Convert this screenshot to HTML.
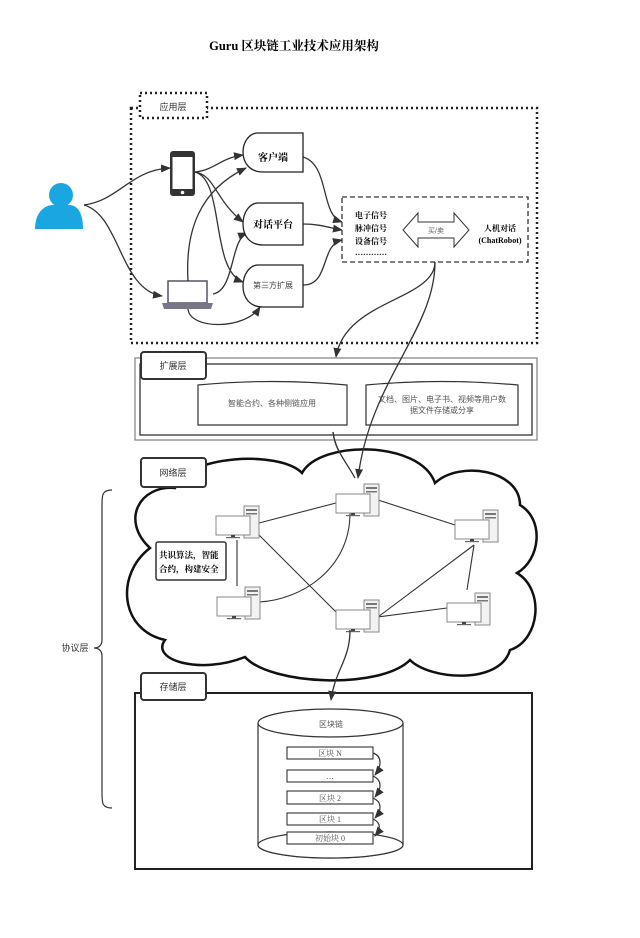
<!DOCTYPE html>
<html><head><meta charset="utf-8"><style>
html,body{margin:0;padding:0;background:#fff;}
svg{display:block;}
text{font-family:"Liberation Serif","Noto Serif CJK SC","Noto Sans CJK SC",serif;}
.s{font-family:"Liberation Sans","Noto Sans CJK SC",sans-serif;}
</style></head><body>
<svg width="640" height="938" viewBox="0 0 640 938" xmlns="http://www.w3.org/2000/svg">
<defs>
<marker id="a" markerWidth="10" markerHeight="8" refX="9" refY="4" orient="auto" markerUnits="userSpaceOnUse"><path d="M0,0 L10,4 L0,8 Z" fill="#333"/></marker>
<g id="pc">
<rect x="28" y="0" width="15" height="32" fill="#f2f2f2" stroke="#888" stroke-width="1"/>
<rect x="30" y="3" width="11" height="2" fill="#777"/><rect x="30" y="7" width="11" height="1.5" fill="#777"/>
<rect x="0" y="10" width="34" height="19" fill="#fff" stroke="#888" stroke-width="1"/>
<rect x="15" y="29" width="4" height="2" fill="#444"/><rect x="10" y="31" width="14" height="1.2" fill="#666"/>
</g>
</defs>
<text x="294" y="50" text-anchor="middle" font-size="12.5" font-weight="bold">Guru 区块链工业技术应用架构</text>

<!-- app layer -->
<rect x="131" y="108" width="406" height="235" fill="none" stroke="#222" stroke-width="2.5" stroke-dasharray="2,3"/>
<rect x="140" y="93" width="67" height="25" fill="#fff" stroke="#222" stroke-width="2.5" stroke-dasharray="2,3"/>
<text x="173" y="110" text-anchor="middle" font-size="9" class="s" fill="#333">应用层</text>

<!-- person -->
<circle cx="61" cy="195" r="12" fill="#1aa6e0"/>
<path d="M35,229 C35,212 45,205 53,205 L69,205 C77,205 83,212 83,229 Z" fill="#1aa6e0"/>
<!-- phone -->
<rect x="170" y="151" width="25" height="45" rx="3" fill="#333"/>
<rect x="172.5" y="157" width="20" height="32" fill="#fff"/>
<circle cx="182.5" cy="192.5" r="1.8" fill="#fff"/>
<!-- laptop -->
<rect x="168" y="281" width="39" height="22" fill="#fff" stroke="#556" stroke-width="1.5"/>
<path d="M162,303 L213,303 L211,309 L164,309 Z" fill="#778"/>

<g fill="none" stroke="#333" stroke-width="1.3" marker-end="url(#a)">
<path d="M84,205 C120,200 130,170 170,168"/>
<path d="M84,205 C120,215 120,290 162,296"/>
<path d="M195,172 C215,170 220,158 243,155"/>
<path d="M195,172 C215,175 215,200 243,222"/>
<path d="M195,172 C225,180 210,270 243,282"/>
<path d="M188,281 C185,230 200,190 246,168"/>
<path d="M213,294 C235,290 230,240 247,233"/>
<path d="M188,309 C190,330 245,330 260,307"/>
<path d="M303,157 C330,165 320,215 342,222"/>
<path d="M303,224 C320,224 330,228 342,230"/>
<path d="M303,285 C330,285 320,245 342,240"/>
<path d="M435,262 C435,300 345,300 336,357"/>
<path d="M333,432 C335,450 345,460 355,478"/>
</g>

<!-- D shapes -->
<g fill="#fff" stroke="#222" stroke-width="1.3">
<path d="M258,133 L303,133 L303,172 L263,172 C250,172 243,163 243,152 C243,141 250,133 258,133 Z"/>
<path d="M258,203 L303,203 L303,245 L263,245 C250,245 243,236 243,224 C243,212 250,203 258,203 Z"/>
<path d="M258,265 L303,265 L303,307 L263,307 C250,307 243,298 243,286 C243,274 250,265 258,265 Z"/>
</g>
<text x="273" y="161" text-anchor="middle" font-size="10" font-weight="bold">客户端</text>
<text x="273" y="228" text-anchor="middle" font-size="10" font-weight="bold">对话平台</text>
<text x="273" y="288" text-anchor="middle" font-size="8" class="s" fill="#444">第三方扩展</text>

<rect x="342" y="197" width="186" height="65" fill="#fff" stroke="#333" stroke-width="1.3" stroke-dasharray="5,3"/>
<text font-size="8" font-weight="bold"><tspan x="355" y="218">电子信号</tspan><tspan x="355" y="231">脉冲信号</tspan><tspan x="355" y="244">设备信号</tspan><tspan x="355" y="255">…………</tspan></text>
<path d="M403,230 L418,213 L418,222 L454,222 L454,213 L469,230 L454,247 L454,238 L418,238 L418,247 Z" fill="#fff" stroke="#333" stroke-width="1"/>
<text x="436" y="233" text-anchor="middle" font-size="7" class="s" fill="#666">买/卖</text>
<text x="500" y="231" text-anchor="middle" font-size="8" font-weight="bold">人机对话</text>
<text x="500" y="243" text-anchor="middle" font-size="8" font-weight="bold">(ChatRobot)</text>

<!-- extension layer -->
<rect x="135" y="358" width="402" height="82" fill="none" stroke="#888" stroke-width="1.3"/>
<rect x="140" y="364" width="392" height="71" fill="none" stroke="#333" stroke-width="1.3"/>
<rect x="141" y="352" width="65" height="27" rx="3" fill="#fff" stroke="#333" stroke-width="2"/>
<text x="173" y="369" text-anchor="middle" font-size="9" class="s" fill="#333">扩展层</text>
<path d="M198,385 Q272,378 347,385 L347,425 L198,425 Z" fill="#fff" stroke="#333" stroke-width="1.2"/>
<path d="M366,385 Q442,378 518,385 L518,425 L366,425 Z" fill="none" stroke="#333" stroke-width="1.2"/>
<text x="272" y="406" text-anchor="middle" font-size="8" class="s" fill="#555">智能合约、各种侧链应用</text>
<text x="442" y="402" text-anchor="middle" font-size="8" class="s" fill="#555">文档、图片、电子书、视频等用户数</text>
<text x="442" y="413" text-anchor="middle" font-size="8" class="s" fill="#555">据文件存储或分享</text>

<!-- cloud -->
<path d="M150,548 C120,520 140,485 175,488 C185,455 280,450 302,473 C320,440 420,440 435,483 C460,460 520,470 520,505 C545,520 540,560 517,573 C545,590 540,640 510,650 C500,685 430,680 410,660 C380,690 270,685 245,657 C200,675 150,660 165,640 C120,630 115,575 150,548 Z" fill="#fff" stroke="#111" stroke-width="2.5"/>
<rect x="141" y="458" width="65" height="29" rx="3" fill="#fff" stroke="#333" stroke-width="2"/>
<text x="173" y="476" text-anchor="middle" font-size="9" class="s" fill="#333">网络层</text>
<path d="M435,262 C435,330 370,380 358,478" fill="none" stroke="#333" stroke-width="1.3" marker-end="url(#a)"/>
<path d="M333,432 C335,450 345,460 355,478" fill="none" stroke="#333" stroke-width="1.3"/>
<g stroke="#333" stroke-width="1.1" fill="none">
<line x1="259" y1="523" x2="336" y2="503"/>
<line x1="378" y1="500" x2="455" y2="525"/>
<line x1="259" y1="535" x2="336" y2="612"/>
<line x1="237" y1="540" x2="237" y2="586"/>
<path d="M350,513 C350,570 300,600 259,602"/>
<line x1="378" y1="617" x2="474" y2="545"/>
<line x1="378" y1="617" x2="447" y2="608"/>
<line x1="467" y1="590" x2="474" y2="545"/>
</g>
<use href="#pc" x="216" y="506"/>
<use href="#pc" x="336" y="484"/>
<use href="#pc" x="455" y="510"/>
<use href="#pc" x="217" y="587"/>
<use href="#pc" x="336" y="600"/>
<use href="#pc" x="447" y="593"/>
<rect x="156" y="542" width="70" height="38" rx="2" fill="#fff" stroke="#333" stroke-width="1.5"/>
<text font-size="8.5" font-weight="bold"><tspan x="159" y="558">共识算法，智能</tspan><tspan x="159" y="572">合约，构建安全</tspan></text>

<!-- brace -->
<path d="M112,490 C102,490 102,495 102,505 L102,640 C102,646 98,648 94,648 C98,648 102,650 102,656 L102,793 C102,803 102,808 112,808" fill="none" stroke="#333" stroke-width="1.2"/>
<text x="75" y="651" text-anchor="middle" font-size="9" class="s" fill="#333">协议层</text>

<!-- storage -->
<rect x="135" y="693" width="397" height="176" fill="none" stroke="#222" stroke-width="2"/>
<rect x="141" y="673" width="65" height="27" rx="3" fill="#fff" stroke="#333" stroke-width="2"/>
<text x="173" y="690" text-anchor="middle" font-size="9" class="s" fill="#333">存储层</text>
<path d="M350,630 C350,660 335,670 331,700" fill="none" stroke="#333" stroke-width="1.3" marker-end="url(#a)"/>
<path d="M258,723 L258,845 A72,13 0 0 0 403,845 L403,723" fill="#fff" stroke="#333" stroke-width="1.2"/>
<ellipse cx="330.5" cy="845" rx="72.5" ry="13" fill="#fff" stroke="#333" stroke-width="1.2"/>
<ellipse cx="330.5" cy="723" rx="72.5" ry="14" fill="#fff" stroke="#333" stroke-width="1.2"/>
<text x="331" y="727" text-anchor="middle" font-size="8" class="s" fill="#555">区块链</text>
<g fill="#fff" stroke="#333" stroke-width="1.1">
<rect x="287" y="747" width="86" height="12"/>
<rect x="287" y="770" width="86" height="12"/>
<rect x="287" y="791" width="86" height="13"/>
<rect x="287" y="813" width="86" height="12"/>
<rect x="287" y="832" width="86" height="12"/>
</g>
<g font-size="8" class="s" fill="#555" text-anchor="middle">
<text x="330" y="756">区块 N</text>
<text x="330" y="779">…</text>
<text x="330" y="801">区块 2</text>
<text x="330" y="822">区块 1</text>
<text x="330" y="841">初始块 0</text>
</g>
<g fill="none" stroke="#333" stroke-width="1.2" marker-end="url(#a)">
<path d="M373,753 C382,756 382,766 375,775"/>
<path d="M373,776 C382,780 382,788 375,797"/>
<path d="M373,798 C382,802 382,810 375,818"/>
<path d="M373,819 C382,823 380,830 375,836"/>
</g>
</svg>
</body></html>
